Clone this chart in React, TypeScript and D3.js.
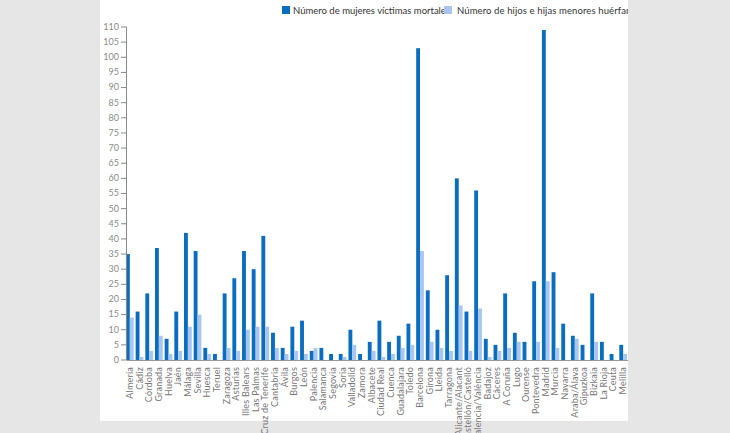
import React from "react";
import * as d3 from "d3";

const provinces = ["Almería","Cádiz","Córdoba","Granada","Huelva","Jaén","Málaga","Sevilla","Huesca","Teruel","Zaragoza","Asturias","Illes Balears","Las Palmas","S.Cruz de Tenerife","Cantabria","Ávila","Burgos","León","Palencia","Salamanca","Segovia","Soria","Valladolid","Zamora","Albacete","Ciudad Real","Cuenca","Guadalajara","Toledo","Barcelona","Girona","Lleida","Tarragona","Alicante/Alacant","Castellón/Castelló","Valencia/València","Badajoz","Cáceres","A Coruña","Lugo","Ourense","Pontevedra","Madrid","Murcia","Navarra","Araba/Álava","Gipuzkoa","Bizkaia","La Rioja","Ceuta","Melilla"];
const mujeres = [35,16,22,37,7,16,42,36,4,2,22,27,36,30,41,9,4,11,13,3,4,2,2,10,2,6,13,6,8,12,103,23,10,28,60,16,56,7,5,22,9,6,26,109,29,12,8,5,22,6,2,5];
const huerfanos = [14,1,3,8,2,3,11,15,2,0,4,3,10,11,11,4,2,3,2,4,0,0,1,5,0,3,1,2,4,5,36,6,4,3,18,3,17,1,3,4,6,0,6,26,4,0,7,0,6,0,0,2];
const seriesNames = ["Número de mujeres víctimas mortales", "Número de hijos e hijas menores huérfanos"];
const yTicks = d3.range(0, 111, 5);

const W = 730, H = 433;
const COLORS = ["#0a6ec0", "#a8c6ef"];

export default function App() {
  const x0 = d3.scaleBand<string>().domain(provinces).range([125, 628]).paddingInner(0.2).paddingOuter(0.1);
  const x1 = d3.scaleBand<number>().domain([0, 1]).range([0, x0.bandwidth()]);
  const y = d3.scaleLinear().domain([0, 110]).range([360, 27]);
  const font = "Lato, 'Open Sans', 'DejaVu Sans', sans-serif";
  return (
    <svg width={W} height={H} style={{ position: "absolute", left: 0, top: 0, display: "block" }} fontFamily={font}>
      <defs>
        <clipPath id="panel"><rect x={100} y={0} width={528} height={H} /></clipPath>
      </defs>
      <rect x={0} y={0} width={W} height={H} fill="#e6e6e6" />
      <rect x={100} y={0} width={528} height={421} fill="#ffffff" />
      <g clipPath="url(#panel)">
        {/* legend */}
        <text x={293} y={14} fontSize={9.5} fill="#333" textLength={157} lengthAdjust="spacing">{seriesNames[0]}</text>
        <rect x={282} y={6} width={8} height={8} fill={COLORS[0]} />
        <rect x={444} y={6} width={8} height={8} fill={COLORS[1]} />
        <text x={457} y={14} fontSize={9.5} fill="#333" textLength={184} lengthAdjust="spacing">{seriesNames[1]}</text>
        {/* bars */}
        {provinces.map((p, i) => (
          <g key={p} transform={`translate(${x0(p)},0)`}>
            {[mujeres[i], huerfanos[i]].map((v, k) => (
              <rect key={k} x={x1(k)!} width={x1.bandwidth()} y={y(v)} height={y(0) - y(v)} fill={COLORS[k]} />
            ))}
          </g>
        ))}
        {/* y axis */}
        <line x1={126.5} x2={126.5} y1={y(110)} y2={y(0)} stroke="#888" />
        {yTicks.map(t => (
          <g key={t} transform={`translate(0,${y(t)})`}>
            <line x1={121} x2={126.5} stroke="#888" />
            <text x={119} dy="0.32em" textAnchor="end" fontSize={9} fill="#8a8a8a">{t}</text>
          </g>
        ))}
        {/* x axis */}
        <line x1={126.5} x2={628} y1={y(0) + 0.5} y2={y(0) + 0.5} stroke="#999" />
        {provinces.map(p => (
          <text key={p} transform={`translate(${x0(p)! + x0.bandwidth() / 2 + 3},367) rotate(-90)`} textAnchor="end" fontSize={9} fill="#777" letterSpacing={0.2}>{p}</text>
        ))}
      </g>
    </svg>
  );
}
